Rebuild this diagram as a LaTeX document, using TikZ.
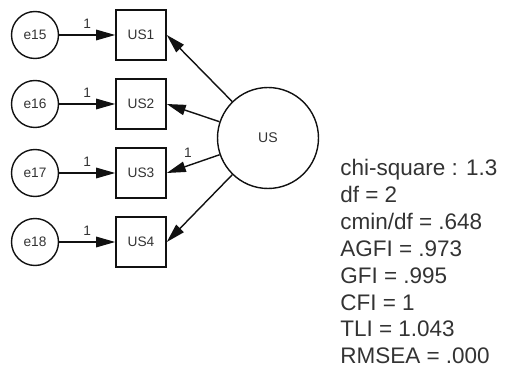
\documentclass[tikz,border=0pt]{standalone}
\usepackage{fontspec}
\setmainfont{Liberation Sans}
\usetikzlibrary{arrows.meta}
\definecolor{semline}{HTML}{111111}
\definecolor{semtext}{HTML}{333333}

\begin{document}
\begin{tikzpicture}[x=0.02cm, y=-0.02cm,
    err/.style={circle, draw=semline, line width=0.8pt, minimum size=0.94cm, inner sep=0pt,
                text=semtext, font=\fontsize{7.8}{9}\selectfont},
    obs/.style={rectangle, draw=semline, line width=0.9pt, minimum size=1cm, inner sep=0pt,
                text=semtext, font=\fontsize{7.8}{9}\selectfont},
    latent/.style={circle, draw=semline, line width=0.8pt, minimum size=2.02cm, inner sep=0pt,
                   text=semtext, font=\fontsize{8}{9}\selectfont},
    arrow/.style={-{Triangle[length=0.38cm, width=0.21cm]}, draw=semline, line width=0.8pt},
    wt/.style={font=\fontsize{7.8}{9}\selectfont, text=semtext, inner sep=1.5pt}
  ]
    \useasboundingbox (0,0) rectangle (510,371);

    \node[latent] (us) at (268,138) {US};

    \foreach \i/\e/\y in {1/15/35, 2/16/104, 3/17/173, 4/18/242} {
      \node[err] (e\e)  at (35,\y)  {e\e};
      \node[obs] (us\i) at (141,\y) {US\i};
      \draw[arrow] (e\e) -- node[wt, above=2pt] {1} (us\i);
    }

    \draw[arrow] (us) -- (us1.east);
    \draw[arrow] (us) -- (us2.east);
    \draw[arrow] (us) -- node[wt, pos=0.6, above=3pt] {1} (us3.east);
    \draw[arrow] (us) -- (us4.east);

    \node[anchor=north west, inner sep=0pt, align=left, text=semtext,
          font=\fontsize{12.8}{15.3}\selectfont] (fit) at (340,159)
      {chi-square : 1.3\\df = 2\\cmin/df = .648\\AGFI = .973\\GFI = .995\\CFI = 1\\TLI = 1.043\\RMSEA = .000};
  \end{tikzpicture}
\end{document}
